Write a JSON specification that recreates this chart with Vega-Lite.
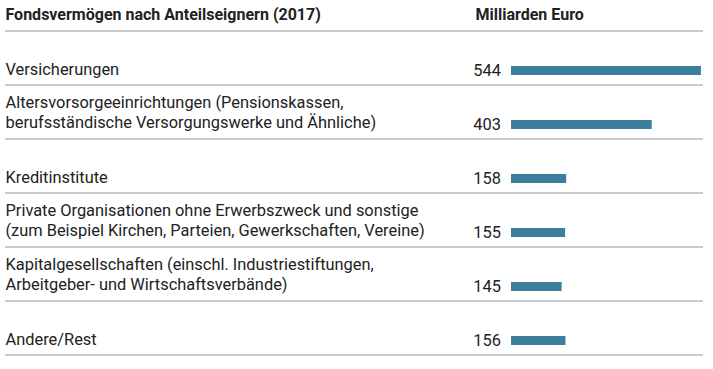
{
  "$schema": "https://vega.github.io/schema/vega-lite/v6.json",
  "width": 698,
  "height": 324,
  "autosize": {"type": "none"},
  "padding": {"left": 5, "top": 31, "right": 10, "bottom": 14},
  "background": "white",
  "config": {"view": {"stroke": null}, "font": "Roboto"},
  "data": {
    "values": [
      {"label": "Versicherungen", "value": 544},
      {"label": "Altersvorsorgeeinrichtungen (Pensionskassen,|berufsständische Versorgungswerke und Ähnliche)", "value": 403},
      {"label": "Kreditinstitute", "value": 158},
      {"label": "Private Organisationen ohne Erwerbszweck und sonstige|(zum Beispiel Kirchen, Parteien, Gewerkschaften, Vereine)", "value": 155},
      {"label": "Kapitalgesellschaften (einschl. Industriestiftungen,|Arbeitgeber- und Wirtschaftsverbände)", "value": 145},
      {"label": "Andere/Rest", "value": 156}
    ]
  },
  "encoding": {
    "y": {
      "field": "label",
      "type": "nominal",
      "sort": null,
      "scale": {"paddingInner": 0, "paddingOuter": 0},
      "axis": {
        "orient": "left",
        "domain": false,
        "ticks": false,
        "tickSize": 0,
        "labelPadding": 0,
        "labelAlign": "left",
        "labelBaseline": "alphabetic",
        "labelOffset": {"condition": {"test": "indexof(datum.value, '|') >= 0", "value": -4.5}, "value": 16.5},
        "labelExpr": "split(datum.label, '|')",
        "labelFont": "Roboto",
        "labelFontSize": 16.4,
        "labelColor": "#222222",
        "labelLineHeight": 20,
        "labelLimit": 0,
        "labelOverlap": false,
        "grid": false,
        "title": "Fondsvermögen nach Anteilseignern (2017)",
        "titleAngle": 0,
        "titleX": 0,
        "titleY": -12,
        "titleAlign": "left",
        "titleBaseline": "alphabetic",
        "titleFont": "Roboto",
        "titleFontSize": 16,
        "titleFontWeight": "bold",
        "titleColor": "#222222"
      }
    }
  },
  "layer": [
    {
      "mark": {"type": "rule", "color": "#8f9699", "strokeWidth": 1},
      "encoding": {
        "y": {"field": "label", "type": "nominal", "sort": null, "bandPosition": 0}
      }
    },
    {
      "transform": [{"filter": "datum.label == 'Andere/Rest'"}],
      "mark": {"type": "rule", "color": "#8f9699", "strokeWidth": 1},
      "encoding": {
        "y": {"field": "label", "type": "nominal", "sort": null, "bandPosition": 1}
      }
    },
    {
      "mark": {"type": "bar", "height": 9, "yOffset": 12.5, "color": "#3b7e9e"},
      "encoding": {
        "x": {
          "field": "value",
          "type": "quantitative",
          "scale": {"domain": [0, 544], "range": [506, 698]},
          "axis": {
            "orient": "top",
            "labels": false,
            "ticks": false,
            "domain": false,
            "grid": false,
            "title": "Milliarden Euro",
            "titleX": 470,
            "titleY": -12,
            "titleAlign": "left",
            "titleAnchor": "start",
            "titleBaseline": "alphabetic",
            "titleFont": "Roboto",
            "titleFontSize": 16,
            "titleFontWeight": "bold",
            "titleColor": "#222222"
          }
        }
      }
    },
    {
      "mark": {"type": "text", "align": "right", "baseline": "alphabetic", "dx": -10, "dy": 17.5, "fontSize": 16.4, "font": "Roboto", "color": "#222222"},
      "encoding": {
        "x": {"datum": 0, "type": "quantitative"},
        "text": {"field": "value", "type": "quantitative"}
      }
    }
  ]
}
